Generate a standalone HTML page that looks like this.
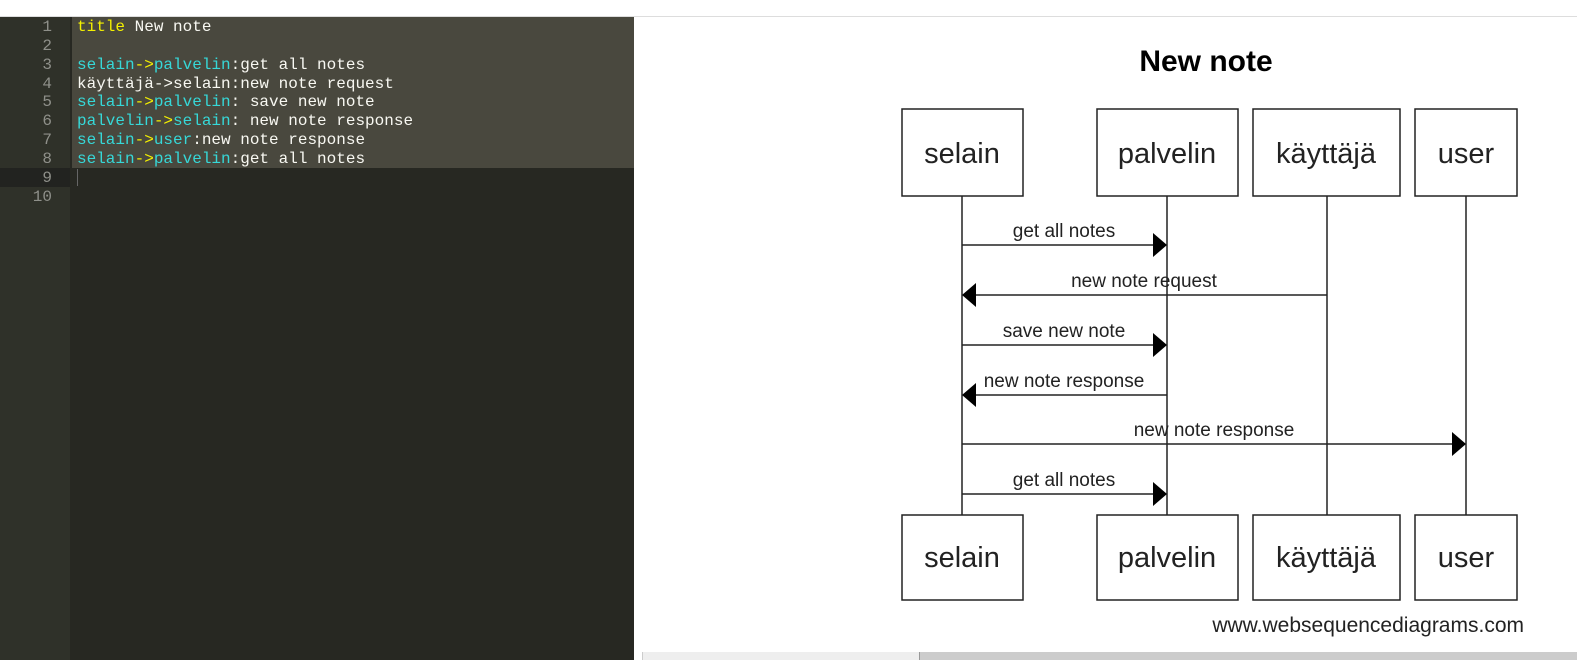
<!DOCTYPE html>
<html><head><meta charset="utf-8"><style>
html,body{margin:0;padding:0;width:1577px;height:660px;overflow:hidden;background:#fff;position:relative;font-family:"Liberation Sans",Arial,sans-serif}
#top{position:absolute;left:0;top:0;width:1577px;height:16px;background:#fff;border-bottom:1px solid #ddd}
#ed{position:absolute;left:0;top:17px;width:634px;height:643px;background:#272822}
#gut{position:absolute;left:0;top:0;width:70px;height:643px;background:#2f3129}
#sel{position:absolute;left:72px;top:0;width:562px;height:151px;background:#49483e}
#l9{position:absolute;left:0;top:151px;width:70px;height:19px;background:#222320}
.ln{position:absolute;left:0;width:52px;text-align:right;color:#8f908a;font:16px/19px "Liberation Mono",monospace}
.tx{position:absolute;left:77px;color:#f8f8f2;font:16px/19px "Liberation Mono",monospace;white-space:pre}
.c{color:#36d8d8}.y{color:#f4f100}
#cur{position:absolute;left:77px;top:152px;width:1px;height:17px;background:#666}
#sb1{position:absolute;left:642px;top:652px;width:277px;height:8px;background:#eee;border-left:1px solid #ccc}
#sb2{position:absolute;left:919px;top:652px;width:658px;height:8px;background:#ccc;border-left:1px solid #999}
</style></head><body>
<div id="top"></div>
<div id="ed">
<div id="gut"></div><div id="sel"></div><div id="l9"></div><div id="cur"></div>
<div class="ln" style="top:1px">1</div>
<div class="ln" style="top:20px">2</div>
<div class="ln" style="top:39px">3</div>
<div class="ln" style="top:58px">4</div>
<div class="ln" style="top:76px">5</div>
<div class="ln" style="top:95px">6</div>
<div class="ln" style="top:114px">7</div>
<div class="ln" style="top:133px">8</div>
<div class="ln" style="top:152px">9</div>
<div class="ln" style="top:171px">10</div>
<div class="tx" style="top:1px"><span class="y">title</span> New note</div>
<div class="tx" style="top:39px"><span class="c">selain</span><span class="y">-&gt;</span><span class="c">palvelin</span>:get all notes</div>
<div class="tx" style="top:58px">käyttäjä-&gt;selain:new note request</div>
<div class="tx" style="top:76px"><span class="c">selain</span><span class="y">-&gt;</span><span class="c">palvelin</span>: save new note</div>
<div class="tx" style="top:95px"><span class="c">palvelin</span><span class="y">-&gt;</span><span class="c">selain</span>: new note response</div>
<div class="tx" style="top:114px"><span class="c">selain</span><span class="y">-&gt;</span><span class="c">user</span>:new note response</div>
<div class="tx" style="top:133px"><span class="c">selain</span><span class="y">-&gt;</span><span class="c">palvelin</span>:get all notes</div>
</div>
<svg style="position:absolute;left:0;top:0" width="1577" height="660" font-family="Liberation Sans, Arial, sans-serif">
<text x="1206" y="71" font-size="30" font-weight="bold" text-anchor="middle" fill="#000">New note</text>
<g stroke="#222" stroke-width="1.5" fill="none">
<line x1="962" y1="196" x2="962" y2="515"/>
<line x1="1167" y1="196" x2="1167" y2="515"/>
<line x1="1327" y1="196" x2="1327" y2="515"/>
<line x1="1466" y1="196" x2="1466" y2="515"/>
<rect x="902" y="109" width="121" height="87" fill="#fff"/>
<rect x="1097" y="109" width="141" height="87" fill="#fff"/>
<rect x="1253" y="109" width="147" height="87" fill="#fff"/>
<rect x="1415" y="109" width="102" height="87" fill="#fff"/>
<rect x="902" y="515" width="121" height="85" fill="#fff"/>
<rect x="1097" y="515" width="141" height="85" fill="#fff"/>
<rect x="1253" y="515" width="147" height="85" fill="#fff"/>
<rect x="1415" y="515" width="102" height="85" fill="#fff"/>
<line x1="962" y1="245" x2="1155" y2="245"/>
<line x1="975" y1="295" x2="1327" y2="295"/>
<line x1="962" y1="345" x2="1155" y2="345"/>
<line x1="975" y1="395" x2="1167" y2="395"/>
<line x1="962" y1="444" x2="1454" y2="444"/>
<line x1="962" y1="494" x2="1155" y2="494"/>
</g>
<g fill="#000">
<polygon points="1167,245 1153,233 1153,257"/>
<polygon points="962,295 976,283 976,307"/>
<polygon points="1167,345 1153,333 1153,357"/>
<polygon points="962,395 976,383 976,407"/>
<polygon points="1466,444 1452,432 1452,456"/>
<polygon points="1167,494 1153,482 1153,506"/>
</g>
<g font-size="19" fill="#222" text-anchor="middle">
<text x="1064" y="237">get all notes</text>
<text x="1144" y="287">new note request</text>
<text x="1064" y="337">save new note</text>
<text x="1064" y="387">new note response</text>
<text x="1214" y="436">new note response</text>
<text x="1064" y="486">get all notes</text>
</g>
<g font-size="29" fill="#222" text-anchor="middle">
<text x="962" y="163">selain</text>
<text x="1167" y="163">palvelin</text>
<text x="1326" y="163">käyttäjä</text>
<text x="1466" y="163">user</text>
<text x="962" y="567">selain</text>
<text x="1167" y="567">palvelin</text>
<text x="1326" y="567">käyttäjä</text>
<text x="1466" y="567">user</text>
</g>
<text x="1524" y="632" font-size="21" fill="#222" text-anchor="end">www.websequencediagrams.com</text>
</svg>
<div id="sb1"></div><div id="sb2"></div>
</body></html>
